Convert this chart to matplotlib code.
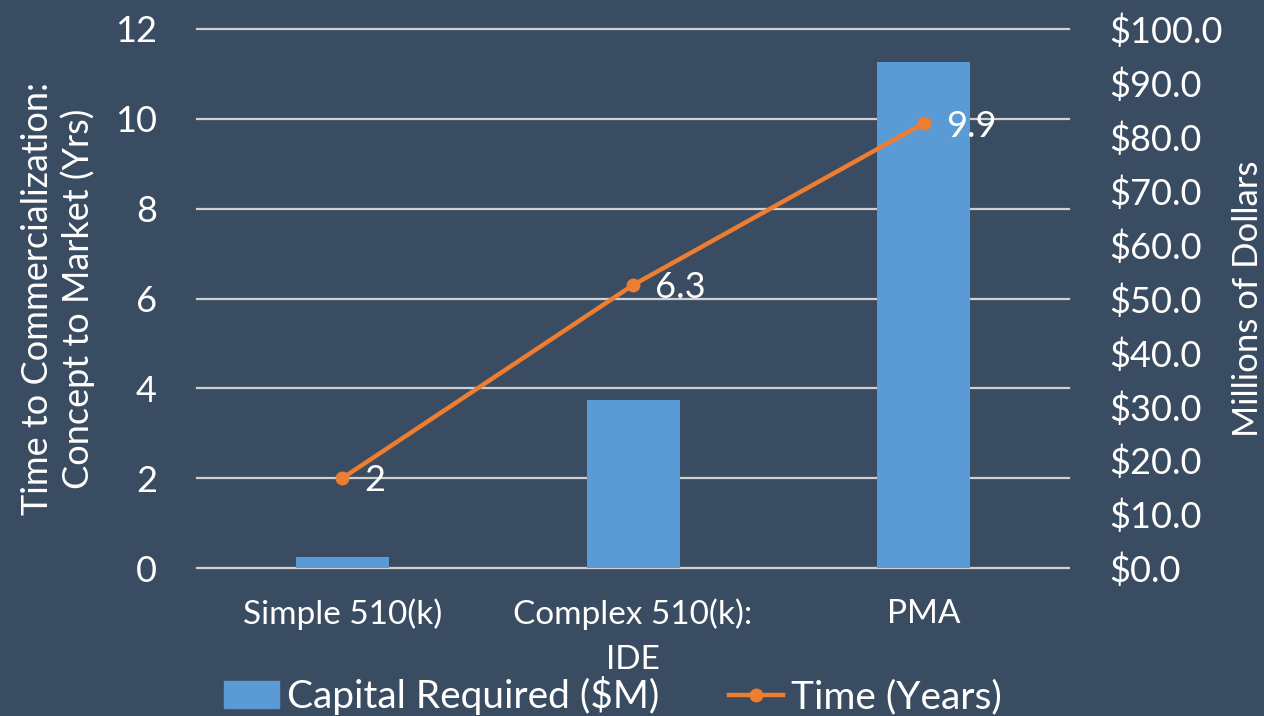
import numpy as np
import matplotlib.pyplot as plt
from matplotlib.ticker import FixedLocator, FuncFormatter
from matplotlib.lines import Line2D
from matplotlib.patches import Patch

categories = ["Simple 510(k)", "Complex 510(k):\nIDE", "PMA"]
capital = [2.0, 31.2, 93.9]      # $M, right axis
years = [2, 6.3, 9.9]            # left axis
year_labels = ["2", "6.3", "9.9"]

bg = "#3A4C61"
blue = "#5B9BD5"
orange = "#ED7D31"
grid_c = "#D0D0D0"

plt.rcParams["font.family"] = ["Lato", "DejaVu Sans"]

fig = plt.figure(figsize=(12.64, 7.16), dpi=100, facecolor=bg)
ax = fig.add_axes([0.1559, 0.2067, 0.6898, 0.7528])
ax2 = ax.twinx()

x = np.arange(len(categories))

# bars on right axis
ax2.bar(x, capital, width=0.32, color=blue, zorder=2)
ax2.set_ylim(0, 100)
ax2.set_yticks(np.arange(0, 101, 10))
ax2.yaxis.set_major_formatter(FuncFormatter(lambda v, p: "${:.1f}".format(v)))
# gridlines follow the left axis steps (0, 2, ... 12) but sit behind the bars
ax2.yaxis.remove_overlapping_locs = False
ax2.yaxis.set_minor_locator(FixedLocator(np.linspace(0, 100, 7)))
ax2.grid(which="minor", axis="y", color=grid_c, linewidth=1.6, zorder=0, clip_on=False)
ax2.set_axisbelow(True)
ax2.tick_params(axis="y", which="major", length=0, labelsize=26, labelcolor="white", pad=29)
ax2.tick_params(axis="y", which="minor", length=0)
ax2.set_ylabel("Millions of Dollars", fontsize=25, color="white", labelpad=7)

# line on left axis, drawn above bars
ax.set_zorder(ax2.get_zorder() + 1)
ax.patch.set_visible(False)
ax.plot(x, years, color=orange, linewidth=3.2, marker="o", markersize=9)
for xi, yi, lab in zip(x, years, year_labels):
    ax.annotate(lab, (xi, yi), xytext=(16, -2), textcoords="offset points",
                ha="left", va="center", fontsize=26, color="white")
ax.set_ylim(0, 12)
ax.set_yticks(np.arange(0, 13, 2))
ax.set_xlim(-0.5, 2.5)
ax.set_xticks(x)
ax.set_xticklabels(categories, fontsize=24, color="white", linespacing=1.6)
ax.tick_params(axis="y", length=0, labelsize=26, labelcolor="white", pad=29)
ax.tick_params(axis="x", length=0, pad=22)
ax.set_ylabel("Time to Commercialization:\nConcept to Market (Yrs)", fontsize=26,
              color="white", labelpad=14, linespacing=1.25)

for a in (ax, ax2):
    for s in a.spines.values():
        s.set_visible(False)

handles = [Patch(color=blue),
           Line2D([0], [0], color=orange, linewidth=3.2, marker="o", markersize=9)]
fig.legend(handles, ["Capital Required ($M)", "Time (Years)"], loc="center",
           bbox_to_anchor=(0.485, 0.028), ncol=2, frameon=False, fontsize=28,
           labelcolor="white", handlelength=1.4, handletextpad=0.2, columnspacing=1.8)

fig.savefig("out.png", dpi=100, facecolor=bg)
